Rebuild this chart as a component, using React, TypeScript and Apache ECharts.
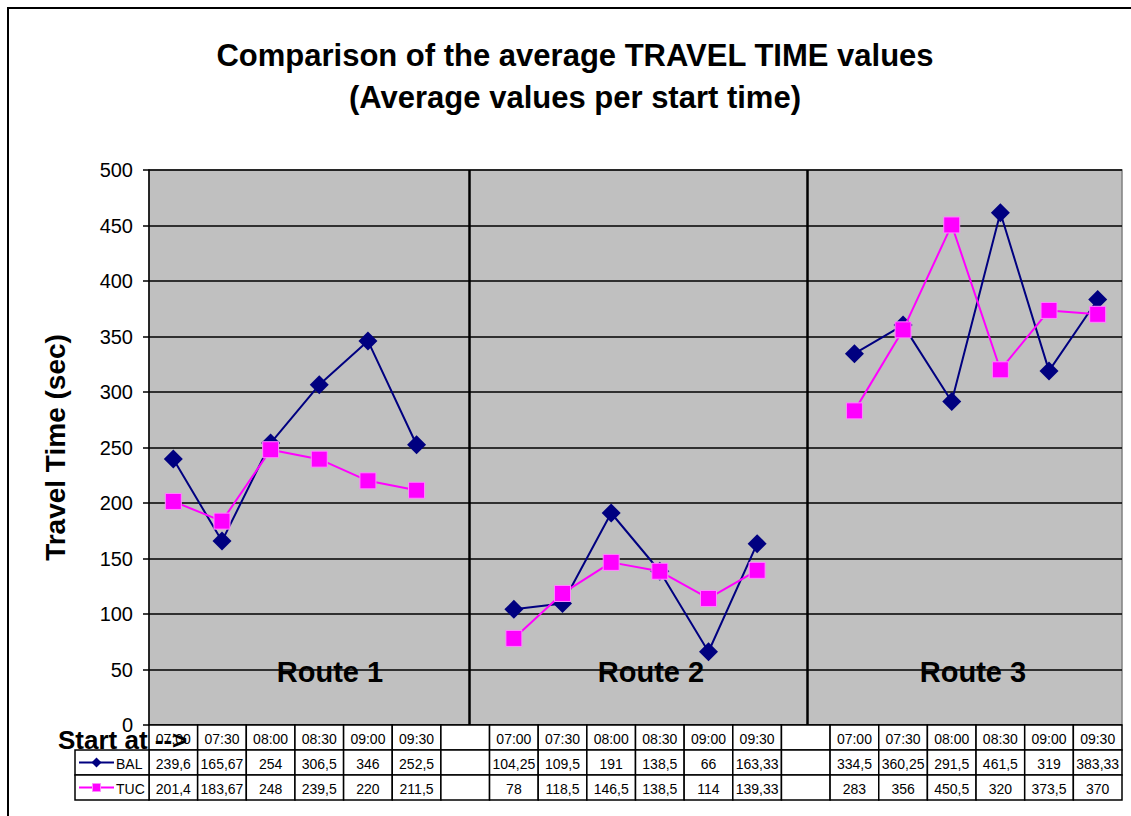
import React, { useEffect, useRef } from "react";
import * as echarts from "echarts";

const times = ["07:00", "07:30", "08:00", "08:30", "09:00", "09:30"];
const routeNames = ["Route 1", "Route 2", "Route 3"];
const balRoute1 = [239.6, 165.67, 254, 306.5, 346, 252.5];
const balRoute2 = [104.25, 109.5, 191, 138.5, 66, 163.33];
const balRoute3 = [334.5, 360.25, 291.5, 461.5, 319, 383.33];
const tucRoute1 = [201.4, 183.67, 248, 239.5, 220, 211.5];
const tucRoute2 = [78, 118.5, 146.5, 138.5, 114, 139.33];
const tucRoute3 = [283, 356, 450.5, 320, 373.5, 370];
const yTicks = { min: 0, max: 500, interval: 50 };
const separatorPositions = [6.58, 13.53];

const categories: string[] = [...times, "", ...times, "", ...times];
const balData: (number | null)[] = [...balRoute1, null, ...balRoute2, null, ...balRoute3];
const tucData: (number | null)[] = [...tucRoute1, null, ...tucRoute2, null, ...tucRoute3];

const BAL_COLOR = "#000080";
const TUC_COLOR = "#FF00FF";
const FONT = "Arial, 'Liberation Sans', sans-serif";

const fmt = (v: number | null) => (v === null ? "" : String(v).replace(".", ","));

export default function App() {
  const ref = useRef<HTMLDivElement>(null);
  useEffect(() => {
    document.body.style.margin = "0";
    if (!ref.current) return;
    const chart = echarts.init(ref.current, undefined, { renderer: "svg" });

    const gridLeft = 149;
    const gridTop = 170;
    const gridWidth = 973;
    const gridHeight = 555;
    const colW = gridWidth / categories.length;
    const tableTop = gridTop + gridHeight;
    const rowH = 25;

    const graphics: any[] = [];
    // outer border
    graphics.push({
      type: "rect",
      shape: { x: 8, y: 8, width: 1140, height: 830 },
      style: { fill: "none", stroke: "#000", lineWidth: 2 },
      z: 1,
    });
    // table cells
    const rows: string[][] = [
      categories,
      balData.map(fmt),
      tucData.map(fmt),
    ];
    rows.forEach((row, r) => {
      row.forEach((txt, i) => {
        graphics.push({
          type: "rect",
          shape: { x: gridLeft + i * colW, y: tableTop + r * rowH, width: colW, height: rowH },
          style: { fill: "#fff", stroke: "#000", lineWidth: 1.5 },
          z: 10,
        });
        if (txt) {
          graphics.push({
            type: "text",
            x: gridLeft + (i + 0.5) * colW,
            y: tableTop + r * rowH + rowH / 2 + 1,
            style: {
              text: txt,
              fill: "#000",
              font: `14px ${FONT}`,
              textAlign: "center",
              textVerticalAlign: "middle",
            },
            z: 11,
          });
        }
      });
    });
    // legend cells
    const legendLeft = 75;
    [
      { name: "BAL", color: BAL_COLOR, marker: "diamond" },
      { name: "TUC", color: TUC_COLOR, marker: "square" },
    ].forEach((s, k) => {
      const y0 = tableTop + (k + 1) * rowH;
      const cy = y0 + rowH / 2;
      graphics.push({
        type: "rect",
        shape: { x: legendLeft, y: y0, width: gridLeft - legendLeft, height: rowH },
        style: { fill: "#fff", stroke: "#000", lineWidth: 1.5 },
        z: 10,
      });
      graphics.push({
        type: "line",
        shape: { x1: 79, y1: cy, x2: 114, y2: cy },
        style: { stroke: s.color, lineWidth: 2 },
        z: 11,
      });
      if (s.marker === "diamond") {
        graphics.push({
          type: "polygon",
          shape: { points: [[96.5, cy - 5], [101.5, cy], [96.5, cy + 5], [91.5, cy]] },
          style: { fill: s.color },
          z: 12,
        });
      } else {
        graphics.push({
          type: "rect",
          shape: { x: 92.5, y: cy - 4, width: 8, height: 8 },
          style: { fill: s.color, stroke: "#ff88ff", lineWidth: 1 },
          z: 12,
        });
      }
      graphics.push({
        type: "text",
        x: 116,
        y: cy + 1,
        style: {
          text: s.name,
          fill: "#000",
          font: `14px ${FONT}`,
          textAlign: "left",
          textVerticalAlign: "middle",
        },
        z: 11,
      });
    });
    // Start at -->
    graphics.push({
      type: "text",
      x: 58,
      y: 740,
      style: {
        text: "Start at -->",
        fill: "#000",
        font: `bold 26px ${FONT}`,
        textAlign: "left",
        textVerticalAlign: "middle",
      },
      z: 20,
    });
    // Route labels
    const routeX = [330, 651, 973];
    routeNames.forEach((n, i) => {
      graphics.push({
        type: "text",
        x: routeX[i],
        y: 672,
        style: {
          text: n,
          fill: "#000",
          font: `bold 29px ${FONT}`,
          textAlign: "center",
          textVerticalAlign: "middle",
        },
        z: 20,
      });
    });
    // title
    graphics.push({
      type: "text",
      x: 575,
      y: 55,
      style: {
        text: "Comparison of the average TRAVEL TIME values",
        fill: "#000",
        font: `bold 31px ${FONT}`,
        textAlign: "center",
        textVerticalAlign: "middle",
      },
      z: 20,
    });
    graphics.push({
      type: "text",
      x: 575,
      y: 97,
      style: {
        text: "(Average values per start time)",
        fill: "#000",
        font: `bold 31px ${FONT}`,
        textAlign: "center",
        textVerticalAlign: "middle",
      },
      z: 20,
    });

    chart.setOption({
      animation: false,
      backgroundColor: "#fff",
      grid: {
        left: gridLeft,
        top: gridTop,
        width: gridWidth,
        height: gridHeight,
        show: true,
        backgroundColor: "#C0C0C0",
        borderColor: "#808080",
        borderWidth: 1.5,
      },
      xAxis: [
        {
          type: "category",
          data: categories,
          boundaryGap: true,
          axisLine: { show: false },
          axisTick: { show: false },
          axisLabel: { show: false },
          splitLine: { show: false },
        },
        {
          type: "value",
          min: 0,
          max: categories.length,
          show: false,
          splitLine: { show: false },
        },
      ],
      yAxis: {
        type: "value",
        min: yTicks.min,
        max: yTicks.max,
        interval: yTicks.interval,
        name: "Travel Time (sec)",
        nameLocation: "middle",
        nameGap: 80,
        nameRotate: 90,
        nameTextStyle: { fontSize: 28, fontWeight: "bold", color: "#000", fontFamily: FONT },
        axisLine: { show: true, lineStyle: { color: "#000", width: 1.5 } },
        axisTick: { show: true, length: 6, lineStyle: { color: "#000", width: 1.5 } },
        axisLabel: { fontSize: 20, color: "#000", fontFamily: FONT, margin: 16 },
        splitLine: { show: true, lineStyle: { color: "#000", width: 1.5 } },
      },
      series: [
        {
          name: "BAL",
          type: "line",
          data: balData,
          connectNulls: false,
          symbol: "diamond",
          symbolSize: 19,
          itemStyle: { color: BAL_COLOR },
          lineStyle: { color: BAL_COLOR, width: 2 },
          z: 5,
        },
        {
          name: "TUC",
          type: "line",
          data: tucData,
          connectNulls: false,
          symbol: "rect",
          symbolSize: 16,
          itemStyle: { color: TUC_COLOR, borderColor: "#ff88ff", borderWidth: 1 },
          lineStyle: { color: TUC_COLOR, width: 2 },
          z: 6,
        },
        {
          name: "sep",
          type: "line",
          xAxisIndex: 1,
          data: [],
          silent: true,
          markLine: {
            silent: true,
            symbol: "none",
            label: { show: false },
            lineStyle: { color: "#000", width: 2.5, type: "solid" },
            data: separatorPositions.map((p) => ({ xAxis: p })),
          },
        },
      ],
      graphic: graphics,
    });
    return () => chart.dispose();
  }, []);
  return <div ref={ref} style={{ width: 1131, height: 816 }} />;
}
